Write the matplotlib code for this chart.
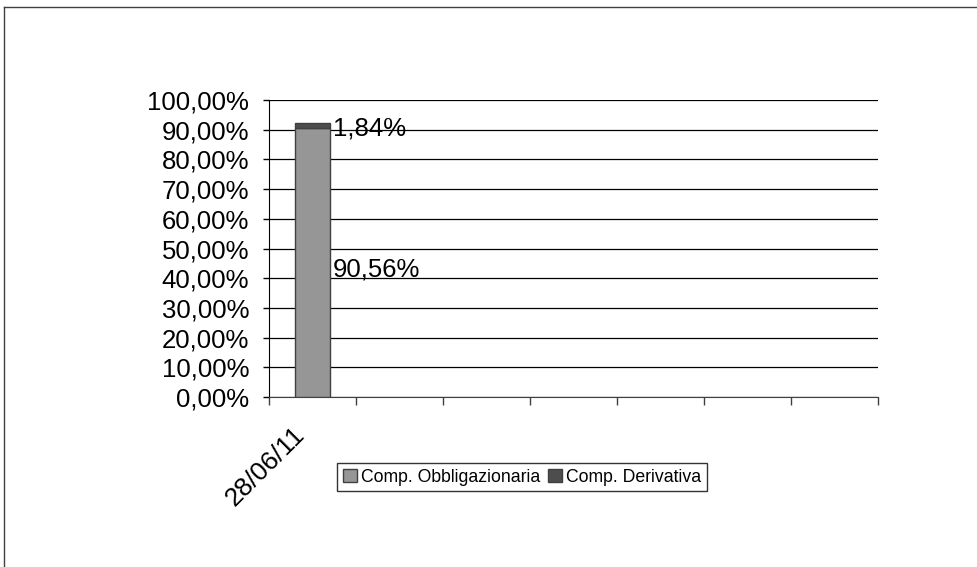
import matplotlib

matplotlib.use("Agg")
import matplotlib.pyplot as plt
from matplotlib.lines import Line2D

plt.rcParams["font.family"] = ["Liberation Sans", "DejaVu Sans"]

CATEGORIES = ["28/06/11", "", "", "", "", "", ""]
OBBLIGAZIONARIA = [90.56, 0, 0, 0, 0, 0, 0]
DERIVATIVA = [1.84, 0, 0, 0, 0, 0, 0]
YTICKS = list(range(0, 101, 10))

W, H = 977, 567
fig = plt.figure(figsize=(W / 100, H / 100), dpi=100)
# axes box in pixel coords: x 269..878, y 100..397
ax = fig.add_axes([269 / W, 1 - 397 / H, (878 - 269) / W, (397 - 100) / H])

x = list(range(len(CATEGORIES)))
has = [i for i in x if OBBLIGAZIONARIA[i] or DERIVATIVA[i]]
ob = [OBBLIGAZIONARIA[i] for i in has]
de = [DERIVATIVA[i] for i in has]
ax.bar(has, ob, width=0.4, color="#969696", edgecolor="#404040", linewidth=1,
       label="Comp. Obbligazionaria", zorder=3)
ax.bar(has, de, width=0.4, bottom=ob, color="#4d4d4d", edgecolor="#404040",
       linewidth=1, label="Comp. Derivativa", zorder=3)

for i, o, d in zip(has, ob, de):
    ax.text(i + 0.23, o / 2 - 2.2, f"{o:.2f}%".replace(".", ","), ha="left",
            va="center", fontsize=18.5, zorder=4)
    ax.text(i + 0.23, o + d / 2 - 1.2, f"{d:.2f}%".replace(".", ","),
            ha="left", va="center", fontsize=18.5, zorder=4)

ax.set_xlim(-0.5, len(CATEGORIES) - 0.5)
ax.set_ylim(0, 100)
ax.set_yticks(YTICKS)
ax.set_yticklabels([f"{v},00%" for v in YTICKS], fontsize=18.5)
ax.yaxis.grid(True, color="black", linewidth=0.9)
ax.set_axisbelow(True)
ax.set_xticks([i - 0.5 for i in range(len(CATEGORIES) + 1)])
ax.set_xticklabels([])
ax.tick_params(axis="x", direction="out", length=5.5, width=1, colors="#404040")
ax.tick_params(axis="y", direction="out", length=4.3, width=1, pad=10)
ax.text(-0.23, -0.085, CATEGORIES[0], transform=ax.get_xaxis_transform(),
        rotation=45, ha="right", va="top", fontsize=19,
        rotation_mode="anchor")
for sp in ("top", "right"):
    ax.spines[sp].set_visible(False)
ax.spines["bottom"].set_color("#404040")

handles = [
    plt.Rectangle((0, 0), 1, 1, facecolor="#969696", edgecolor="#404040"),
    plt.Rectangle((0, 0), 1, 1, facecolor="#4d4d4d", edgecolor="#404040"),
]
leg = fig.legend(handles, ["Comp. Obbligazionaria", "Comp. Derivativa"],
                 loc="center", bbox_to_anchor=(522 / W, 1 - 477 / H), ncol=2,
                 fontsize=12.7, frameon=True, fancybox=False, handlelength=0.8,
                 handleheight=0.8, handletextpad=0.25, columnspacing=0.4,
                 borderpad=0.3, borderaxespad=0)
leg.get_frame().set_edgecolor("black")
leg.get_frame().set_linewidth(1)

# outer chart frame (cropped on right/bottom)
fig.add_artist(Line2D([4 / W, 4 / W], [0, 1 - 7 / H], color="#404040",
                      linewidth=1, transform=fig.transFigure))
fig.add_artist(Line2D([4 / W, 1], [1 - 7 / H, 1 - 7 / H], color="#404040",
                      linewidth=1, transform=fig.transFigure))

fig.savefig("out.png", dpi=100)
